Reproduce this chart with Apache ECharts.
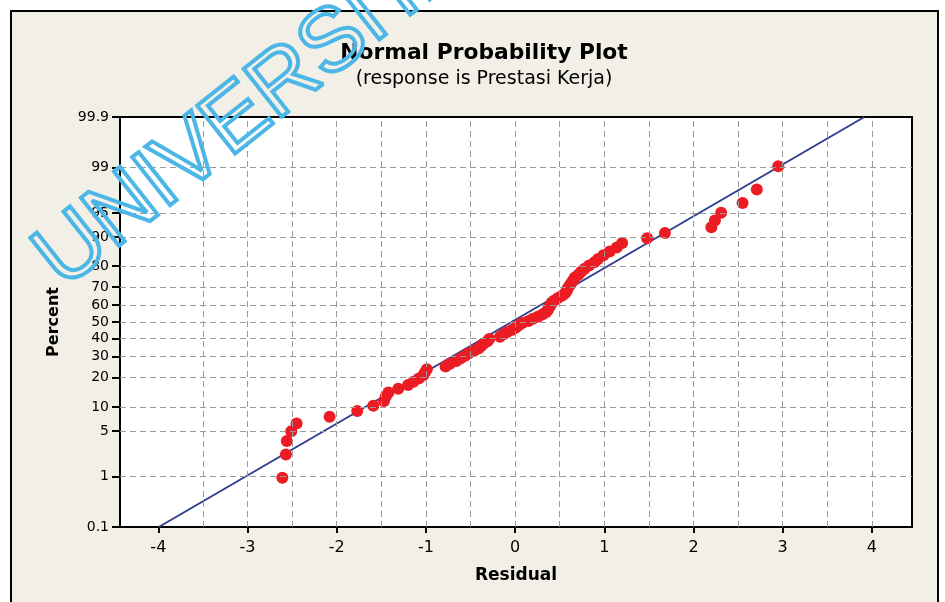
<!DOCTYPE html>
<html><head><meta charset="utf-8">
<script src="https://cdn.jsdelivr.net/npm/echarts@6/dist/echarts.min.js"></script>
<style>html,body{margin:0;padding:0;background:#fff}#c{width:945px;height:602px}</style>
</head><body><div id="c"></div>
<script>
// ---- data ----
const residuals = [-2.61,-2.57,-2.56,-2.51,-2.45,-2.08,-1.77,-1.59,-1.47,-1.45,-1.42,-1.31,-1.20,-1.14,-1.08,-1.03,-1.01,-0.99,-0.78,-0.73,-0.66,-0.61,-0.56,-0.52,-0.46,-0.41,-0.38,-0.35,-0.31,-0.29,-0.17,-0.13,-0.09,-0.03,0.01,0.04,0.08,0.15,0.20,0.26,0.31,0.35,0.37,0.38,0.40,0.41,0.44,0.48,0.53,0.56,0.58,0.59,0.61,0.63,0.65,0.67,0.71,0.74,0.78,0.83,0.89,0.93,0.99,1.06,1.14,1.20,1.48,1.68,2.20,2.24,2.31,2.55,2.71,2.95];
const percents = [0.94,2.28,3.63,4.97,6.32,7.66,9.01,10.35,11.69,13.04,14.38,15.73,17.07,18.41,19.76,21.10,22.45,23.79,25.13,26.48,27.82,29.17,30.51,31.85,33.20,34.54,35.89,37.23,38.58,39.92,41.26,42.61,43.95,45.30,46.64,47.98,49.33,50.67,52.02,53.36,54.70,56.05,57.39,58.74,60.08,61.42,62.77,64.11,65.46,66.80,68.15,69.49,70.83,72.18,73.52,74.87,76.21,77.55,78.90,80.24,81.59,82.93,84.27,85.62,86.96,88.31,89.65,90.99,92.34,93.68,95.03,96.37,97.72,99.06];
const percentTicks = [0.1,1,5,10,20,30,40,50,60,70,80,90,95,99,99.9];
const percentTickLabels = ['0.1','1','5','10','20','30','40','50','60','70','80','90','95','99','99.9'];
const residualTicks = [-4,-3,-2,-1,0,1,2,3,4];
const residualGrid = [-3.5,-3,-2.5,-2,-1.5,-1,-0.5,0,0.5,1,1.5,2,2.5,3,3.5,4];
const fitMean = -0.04, fitSigma = 1.28;
const titleText = 'Normal Probability Plot';
const subtitleText = '(response is Prestasi Kerja)';
const watermarkText = 'UNIVERSITAS';

// ---- probability scale transform ----
function normInv(p){
  const a=[-3.969683028665376e+01,2.209460984245205e+02,-2.759285104469687e+02,1.383577518672690e+02,-3.066479806614716e+01,2.506628277459239e+00];
  const b=[-5.447609879822406e+01,1.615858368580409e+02,-1.556989798598866e+02,6.680131188771972e+01,-1.328068155288572e+01];
  const c=[-7.784894002430293e-03,-3.223964580411365e-01,-2.400758277161838e+00,-2.549732539343734e+00,4.374664141464968e+00,2.938163982698783e+00];
  const d=[7.784695709041462e-03,3.224671290700398e-01,2.445134137142996e+00,3.754408661907416e+00];
  const pl=0.02425, ph=1-pl; let q,r;
  if(p<pl){q=Math.sqrt(-2*Math.log(p));return (((((c[0]*q+c[1])*q+c[2])*q+c[3])*q+c[4])*q+c[5])/((((d[0]*q+d[1])*q+d[2])*q+d[3])*q+1);}
  if(p<=ph){q=p-0.5;r=q*q;return (((((a[0]*r+a[1])*r+a[2])*r+a[3])*r+a[4])*r+a[5])*q/(((((b[0]*r+b[1])*r+b[2])*r+b[3])*r+b[4])*r+1);}
  q=Math.sqrt(-2*Math.log(1-p));return -(((((c[0]*q+c[1])*q+c[2])*q+c[3])*q+c[4])*q+c[5])/((((d[0]*q+d[1])*q+d[2])*q+d[3])*q+1);
}
const zTicks = percentTicks.map(p=>normInv(p/100));
const yMin = zTicks[0], yMax = zTicks[zTicks.length-1];
const points = residuals.map((r,i)=>[r, normInv(percents[i]/100)]);
const fitLine = [[fitMean + fitSigma*yMin, yMin],[fitMean + fitSigma*yMax, yMax]];

function labelFor(z){
  let best=0, bd=1e9;
  zTicks.forEach((t,i)=>{const dd=Math.abs(t-z); if(dd<bd){bd=dd;best=i;}});
  return percentTickLabels[best];
}
const FONT = 'DejaVu Sans';
const gridLineStyle = {color:'#9a9a9a', width:1, type:[6,4]};

const chart = echarts.init(document.getElementById('c'), null, {renderer:'canvas'});
chart.setOption({
  backgroundColor:'#ffffff',
  animation:false,
  graphic:[
    {type:'rect', z:-10, shape:{x:11,y:11,width:927,height:600}, style:{fill:'#f2efe6', stroke:'#000', lineWidth:2}},
    {type:'text', z:100, x:484, y:42, style:{text:titleText, font:'bold 21.8px "DejaVu Sans"', fill:'#000', textAlign:'center'}},
    {type:'text', z:100, x:484, y:70, style:{text:subtitleText, font:'19px "DejaVu Sans"', fill:'#000', textAlign:'center'}},
    {type:'text', z:200, x:20, y:236, rotation:0.67, style:{text:watermarkText, font:'89px "Liberation Sans"', fill:'rgba(0,0,0,0)', stroke:'#4cb6e6', lineWidth:4}}
  ],
  grid:{left:120, right:33, top:117, bottom:75, show:true, backgroundColor:'#fff', borderColor:'#000', borderWidth:2},
  xAxis:{
    type:'value', min:-4.43, max:4.45,
    name:'Residual', nameLocation:'middle', nameGap:40,
    nameTextStyle:{fontFamily:FONT, fontWeight:'bold', fontSize:17, color:'#000'},
    axisLine:{show:true, onZero:false, lineStyle:{color:'#000', width:2}},
    axisTick:{show:true, customValues:residualTicks, length:6, lineStyle:{color:'#000', width:2}},
    axisLabel:{customValues:residualTicks, fontFamily:FONT, fontSize:16, color:'#000', margin:13},
    splitLine:{show:false}
  },
  yAxis:{
    type:'value', min:yMin, max:yMax,
    name:'Percent', nameLocation:'middle', nameGap:58, nameRotate:90,
    nameTextStyle:{fontFamily:FONT, fontWeight:'bold', fontSize:16, color:'#000'},
    axisLine:{show:true, onZero:false, lineStyle:{color:'#000', width:2}},
    axisTick:{show:true, customValues:zTicks, length:8, lineStyle:{color:'#000', width:2}},
    axisLabel:{customValues:zTicks, formatter:v=>labelFor(v), fontFamily:FONT, fontSize:14, color:'#000', margin:11},
    splitLine:{show:false}
  },
  series:[
    {type:'line', data:[], silent:true,
     markLine:{silent:true, symbol:'none', label:{show:false}, lineStyle:gridLineStyle, animation:false,
       data: zTicks.slice(1, zTicks.length-1).map(z=>({yAxis:z})).concat(residualGrid.map(x=>({xAxis:x})))}},
    {type:'line', data:fitLine, showSymbol:false, symbol:'none', lineStyle:{color:'#2f3d8f', width:2}, z:3},
    {type:'scatter', data:points, symbol:'circle', symbolSize:12, itemStyle:{color:'#ec1c24', opacity:1}, z:4}
  ]
});
</script></body></html>
